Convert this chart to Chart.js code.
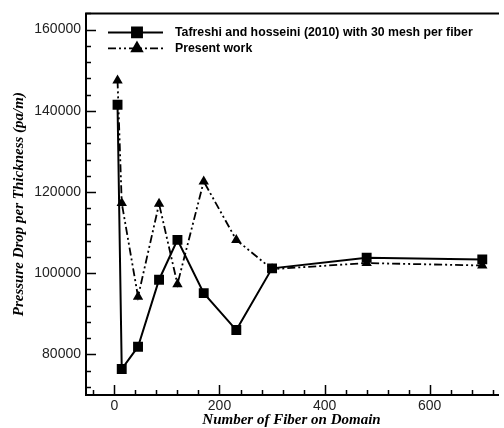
<!DOCTYPE html>
<html>
<head>
<meta charset="utf-8">
<script src="https://cdn.jsdelivr.net/npm/chart.js@4.4.1/dist/chart.umd.min.js"></script>
<style>
  html, body { margin: 0; padding: 0; background: #fff; }
  #wrap { width: 504px; height: 428px; }
</style>
</head>
<body>
<div id="wrap"><canvas id="chart" width="504" height="428"></canvas></div>
<script>
// values
const fiberCounts = [6, 14, 45, 85, 120, 170, 232, 300, 480, 700];
const tafreshiDrop = [141500, 76400, 81900, 98400, 108200, 95100, 86000, 101200, 103800, 103400];
const presentDrop = [147500, 117300, 94200, 117100, 97300, 122600, 108200, 101000, 102500, 101900];

const xTickValues = [0, 200, 400, 600];
const yTickValues = [80000, 100000, 120000, 140000, 160000];
const seriesLabels = ["Tafreshi and hosseini (2010) with 30 mesh per fiber", "Present work"];

const toPoints = (ys) => fiberCounts.map((x, i) => ({ x, y: ys[i] }));

const INK = "#000";

// inward major/minor ticks, frame and inset legend
const framePlugin = {
  id: "frame",
  afterDraw(chart) {
    const { ctx, chartArea: a, scales } = chart;
    const xs = scales.x;
    const ys = scales.y;
    ctx.save();
    ctx.strokeStyle = INK;
    ctx.lineWidth = 1.5;

    ctx.beginPath();
    for (let v = -40; v <= 720; v += 40) {
      const px = Math.round(xs.getPixelForValue(v)) + 0.5;
      if (px < a.left || px > a.right) continue;
      const len = v % 200 === 0 ? 10 : 5;
      ctx.moveTo(px, a.bottom);
      ctx.lineTo(px, a.bottom - len);
    }
    for (let v = 72000; v <= 164000; v += 4000) {
      const py = Math.round(ys.getPixelForValue(v)) + 0.5;
      if (py < a.top || py > a.bottom) continue;
      const len = v % 20000 === 0 ? 10 : 5;
      ctx.moveTo(a.left, py);
      ctx.lineTo(a.left + len, py);
    }
    ctx.stroke();

    ctx.lineWidth = 2;
    ctx.beginPath();
    ctx.moveTo(a.right + 2, a.top);
    ctx.lineTo(a.left, a.top);
    ctx.lineTo(a.left, a.bottom);
    ctx.lineTo(a.right + 2, a.bottom);
    ctx.stroke();

    // legend
    const rows = [
      { ds: chart.data.datasets[0], y: a.top + 19 },
      { ds: chart.data.datasets[1], y: a.top + 35 },
    ];
    const x0 = a.left + 22;
    const x1 = a.left + 77;
    const xm = a.left + 51;
    rows.forEach((row) => {
      ctx.lineWidth = row.ds.borderWidth;
      ctx.setLineDash(row.ds.borderDash || []);
      ctx.beginPath();
      ctx.moveTo(x0, row.y);
      ctx.lineTo(x1, row.y);
      ctx.stroke();
      ctx.setLineDash([]);
      Chart.helpers.drawPoint(ctx, {
        pointStyle: row.ds.pointStyle,
        radius: row.ds.pointRadius,
        borderWidth: 1,
        rotation: 0,
      }, xm, row.y);
      ctx.fillStyle = INK;
      ctx.fill();
      ctx.font = "bold 12.3px 'Liberation Sans', Arial, sans-serif";
      ctx.textBaseline = "middle";
      ctx.fillText(row.ds.label, a.left + 89, row.y);
    });
    ctx.restore();
  },
};

const plainNumber = (v) => String(v);

new Chart(document.getElementById("chart"), {
  type: "scatter",
  data: {
    datasets: [
      {
        label: seriesLabels[0],
        data: toPoints(tafreshiDrop),
        showLine: true,
        borderColor: INK,
        backgroundColor: INK,
        borderWidth: 2,
        pointStyle: "rect",
        pointRadius: 7,
        pointBorderWidth: 0,
      },
      {
        label: seriesLabels[1],
        data: toPoints(presentDrop),
        showLine: true,
        borderColor: INK,
        backgroundColor: INK,
        borderWidth: 1.8,
        borderDash: [8, 3, 2, 3, 2, 3],
        pointStyle: "triangle",
        pointRadius: 6,
        pointBorderWidth: 0,
      },
    ],
  },
  options: {
    responsive: false,
    animation: false,
    layout: { padding: { top: 7, right: 0, left: 0, bottom: 0 } },
    plugins: { legend: { display: false }, tooltip: { enabled: false } },
    scales: {
      x: {
        type: "linear",
        min: -54,
        max: 728,
        afterBuildTicks: (s) => { s.ticks = xTickValues.map((value) => ({ value })); },
        afterFit: (s) => { s.height = 33; },
        grid: { display: false, drawTicks: false },
        border: { display: false },
        ticks: { color: "#222", font: { family: "'Liberation Sans', Arial, sans-serif", size: 14 }, padding: 3, maxRotation: 0, callback: plainNumber },
        title: {
          display: true,
          text: "Number of Fiber on Domain",
          color: INK,
          font: { family: "'Liberation Serif', 'Times New Roman', serif", size: 15, style: "italic", weight: "bold", lineHeight: 1 },
          padding: { top: 0, bottom: 0 },
        },
      },
      y: {
        type: "linear",
        min: 70000,
        max: 164000,
        afterBuildTicks: (s) => { s.ticks = yTickValues.map((value) => ({ value })); },
        afterFit: (s) => { s.width = 86; },
        grid: { display: false, drawTicks: false },
        border: { display: false },
        ticks: { color: "#222", font: { family: "'Liberation Sans', Arial, sans-serif", size: 14 }, padding: 5, callback: plainNumber },
        title: {
          display: true,
          text: "Pressure Drop per Thickness (pa/m)",
          color: INK,
          font: { family: "'Liberation Serif', 'Times New Roman', serif", size: 15, style: "italic", weight: "bold", lineHeight: 1.2 },
          padding: { top: 10, bottom: 0 },
        },
      },
    },
  },
  plugins: [framePlugin],
});
</script>
</body>
</html>
